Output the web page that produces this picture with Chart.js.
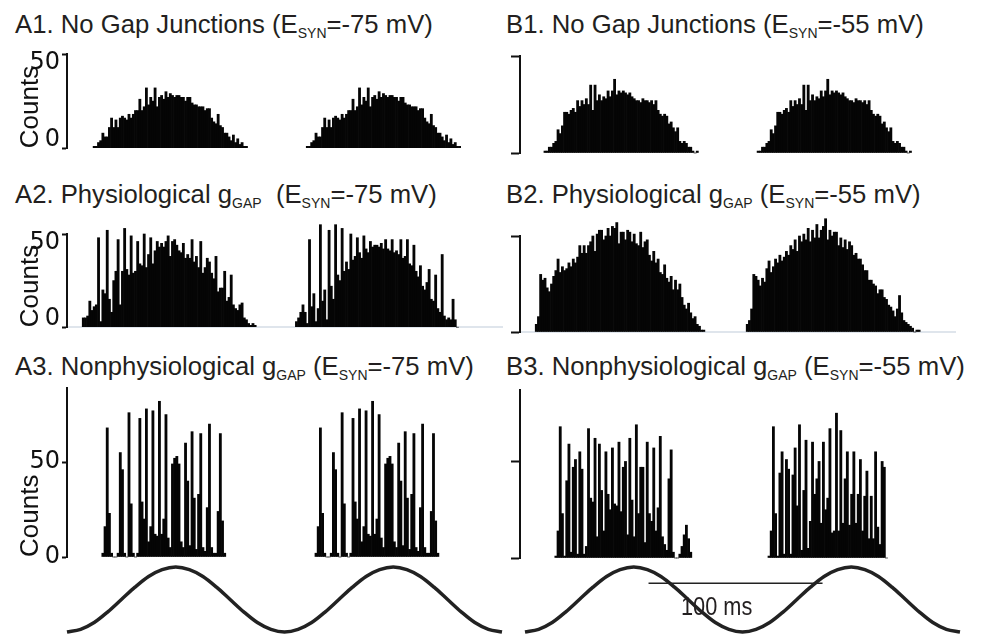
<!DOCTYPE html>
<html>
<head>
<meta charset="utf-8">
<script src="https://cdn.jsdelivr.net/npm/chart.js@4.4.1/dist/chart.umd.min.js"></script>
<style>
  html, body { margin: 0; padding: 0; background: #fff; }
  #fig { position: relative; width: 992px; height: 636px; overflow: hidden;
         font-family: "Liberation Sans", Arial, sans-serif; color: #231f20; }
  #fig canvas { position: absolute; }
  .ttl { position: absolute; font-size: 25.7px; line-height: 25px; white-space: pre; }
  .ttl span { font-size: 14px; position: relative; top: 5px; }
  #bar-label { position: absolute; left: 681px; top: 594px; font-size: 25px; line-height: 25px;
               transform: scaleX(0.87); transform-origin: left top; }
</style>
</head>
<body>
<div id="fig">
  <div class="ttl" style="left:15px;top:12px">A1. No Gap Junctions (E<span>SYN</span>=-75 mV)</div>
  <div class="ttl" style="left:506px;top:12px">B1. No Gap Junctions (E<span>SYN</span>=-55 mV)</div>
  <div class="ttl" style="left:15px;top:182px">A2. Physiological g<span>GAP</span>  (E<span>SYN</span>=-75 mV)</div>
  <div class="ttl" style="left:506px;top:182px">B2. Physiological g<span>GAP</span> (E<span>SYN</span>=-55 mV)</div>
  <div class="ttl" style="left:15px;top:354px">A3. Nonphysiological g<span>GAP</span> (E<span>SYN</span>=-75 mV)</div>
  <div class="ttl" style="left:506px;top:354px">B3. Nonphysiological g<span>GAP</span> (E<span>SYN</span>=-55 mV)</div>
  <canvas id="a1"></canvas><canvas id="b1"></canvas>
  <canvas id="a2"></canvas><canvas id="b2"></canvas>
  <canvas id="a3"></canvas><canvas id="b3"></canvas>
  <canvas id="stimA"></canvas><canvas id="stimB"></canvas>
  <div id="bar-label">100 ms</div>
</div>
<script>
"use strict";
// Spike-time histograms over two stimulus cycles (200 bins).
// Each cycle is stored as [first bin, counts...]; A1, A3 and B1 repeat the same cycle.
const N_BINS = 200;

const A1_START = [12, 110];
const A1_COUNTS = [1,1,3,4,8,6,6,11,16,11, 15,11,16,17,16,15,18,16,18,20,
  20,26,20,22,32,23,27,25,32,22, 27,28,26,30,27,29,28,27,28,28,
  27,27,25,27,27,24,23,23,22,22, 22,20,21,21,16,14,13,18,12,11,
  8,8,6,4,7,3,5,2,3,1,1];

const A2_START = [7, 105];
const A2_COUNTS_1 = [5,5,6,14,9,11,12,48,3,20, 18,52,15,8,25,30,47,12,30,53,
  31,28,49,29,30,46,34,33,50,32, 39,48,34,41,46,43,45,43,46,49,
  38,46,47,44,41,40,45,37,39,37, 47,35,38,32,46,29,32,37,35,29,
  26,38,19,21,21,30,14,16,28,12, 10,9,12,13,5,4,2,1,2,1];
const A2_COUNTS_2 = [3,5,8,12,8,2,47,11,18,3, 10,55,14,20,4,52,22,15,55,28,
  25,53,30,35,31,50,36,38,48,40, 37,49,42,40,46,43,44,44,43,45,
  42,47,42,41,47,40,41,39,47,37, 38,47,34,33,44,30,27,33,22,20,
  24,31,15,14,28,10,8,39,6,4, 5,4,15,4,0];

const A3_START = [16, 114];
const A3_COUNTS = [2,16,68,23,2,0,0,2,55,46, 2,0,76,28,2,0,2,73,29,20,
  78,8,16,77,12,11,82,12,20,75, 10,5,49,52,53,49,8,5,60,40,
  6,66,31,4,33,65,5,3,26,70, 5,2,2,24,65,19,2];

const B1_START = [11, 109];
const B1_COUNTS = [1,1,3,3,5,6,12,10,14,21, 21,20,22,23,21,27,24,27,25,28,
  25,35,22,35,27,30,27,29,28,32, 29,32,38,30,32,31,32,31,30,31,
  29,28,27,27,26,28,27,27,26,27, 25,27,22,20,19,20,19,15,16,13,
  11,13,6,5,6,5,3,3,1,0,1];

const B2_START = [7, 104];
const B2_COUNTS_1 = [4,8,30,27,28,23,21,25,29,32, 38,31,34,32,33,36,34,38,36,39,
  45,41,45,41,45,47,50,42,51,53, 53,48,50,54,50,55,54,57,46,52,
  52,48,53,52,47,51,46,45,52,44, 47,48,40,37,42,36,38,31,30,35,
  28,26,29,22,27,22,25,18,14,12, 15,10,7,8,4,3,1,1];
const B2_COUNTS_2 = [4,6,12,30,29,27,24,28,26,33, 37,31,34,38,36,40,37,39,42,40,
  45,43,48,42,50,47,51,48,54,47, 53,49,56,49,53,55,59,48,53,50,
  52,52,45,49,44,48,43,47,45,40, 41,38,38,35,32,32,27,27,25,24,
  20,22,22,18,17,14,13,11,8,12, 19,10,6,5,4,3,2,0,1,1];

const B3_START = [16, 114];
const B3_COUNTS_1 = [1,14,68,23,1,40,59,3,47,51, 2,55,46,2,6,67,31,29,62,11,
  59,35,14,55,33,25,57,28,27,60, 24,47,50,12,62,30,11,69,23,47,
  47,8,60,23,19,57,14,26,63,11, 7,4,41,56,3,0,0,2,6,12,
  17,10,3];
const B3_COUNTS_2 = [1,14,68,23,1,44,55,2,51,46, 2,43,57,27,69,4,35,61,5,19,
  60,33,41,50,18,60,25,31,67,13, 14,75,14,66,18,41,55,17,33,55,
  18,33,51,14,32,45,10,32,10,55, 16,7,50,47,0];

// Sinusoidal stimulus, two 125 ms cycles sampled every 1/16 cycle (normalised).
const STIM = [-1,-0.92,-0.71,-0.38,0,0.38,0.71,0.92,1,0.92,0.71,0.38,0,-0.38,-0.71,-0.92,
  -1,-0.92,-0.71,-0.38,0,0.38,0.71,0.92,1,0.92,0.71,0.38,0,-0.38,-0.71,-0.92,-1];
const STIM_STEP_MS = 7.8125;
const WINDOW_MS = 250;
const SCALEBAR_MS = 100;
const SCALEBAR_START_MS = 71;
const SCALEBAR_LEVEL = 0.5;

const INK = "#111";
const BAR = "#050505";
const BIN_LABELS = Array.from({ length: N_BINS }, (_, i) => i);

function place(cv, left, top, w, h) {
  cv.width = w; cv.height = h;
  cv.style.left = left + "px"; cv.style.top = top + "px";
}

// L: chart-area geometry; cycles: [[start, counts], ...]
function histogram(id, L, cycles, labelFn) {
  const counts = new Array(N_BINS).fill(null);
  for (const [start, vals] of cycles) vals.forEach((v, i) => { counts[start + i] = v; });
  const padT = 26, padB = 14;
  const cv = document.getElementById(id);
  place(cv, L.left, L.top - padT, L.width, L.bottom - L.top + padT + padB);
  const y = {
    min: 0, max: L.yMax,
    afterFit: (s) => { s.width = L.axisW; },
    afterBuildTicks: (s) => { s.ticks = [{ value: 0 }, { value: 50 }]; },
    border: { display: true, color: INK, width: 2 },
    grid: { display: true, drawOnChartArea: false, drawTicks: true,
            tickLength: L.tick, tickWidth: 2, tickColor: INK },
    ticks: { callback: labelFn, color: INK, padding: 2,
             font: { family: "DejaVu Sans", size: 24, lineHeight: 0.7 } },
    title: { display: !!L.counts, text: "Counts", align: "start", color: INK,
             padding: { top: 18, bottom: 0 },
             font: { family: "'Liberation Sans', Arial, sans-serif", size: 26, lineHeight: 1 } },
  };
  // faint baseline only shows under the A2/B2 histograms
  const x = L.baseline
    ? { display: true, offset: true, grid: { display: false, drawTicks: false },
        ticks: { display: false }, border: { display: true, color: "#dfe5ec", width: 2 } }
    : { display: false };
  return new Chart(cv, {
    type: "bar",
    data: { labels: BIN_LABELS, datasets: [{ data: counts, backgroundColor: BAR,
      barPercentage: 1, categoryPercentage: 1, borderWidth: 0, clip: false }] },
    options: {
      responsive: false, animation: false, events: [],
      layout: { padding: { top: padT, bottom: padB, left: 0, right: L.padR } },
      plugins: { legend: { display: false }, tooltip: { enabled: false } },
      scales: { x, y },
    },
  });
}

function stimulus(id, L, scaleBar) {
  const cv = document.getElementById(id);
  place(cv, L.left, 537, L.width, 99);
  const datasets = [{ data: STIM.map((v, i) => ({ x: i * STIM_STEP_MS, y: v })),
    borderColor: "#222", borderWidth: 3.5, pointRadius: 0,
    cubicInterpolationMode: "monotone", clip: false }];
  if (scaleBar) datasets.push({ data: [{ x: SCALEBAR_START_MS, y: SCALEBAR_LEVEL },
      { x: SCALEBAR_START_MS + SCALEBAR_MS, y: SCALEBAR_LEVEL }],
    borderColor: "#222", borderWidth: 1.6, pointRadius: 0, clip: false });
  return new Chart(cv, {
    type: "line",
    data: { datasets },
    options: {
      responsive: false, animation: false, events: [],
      layout: { padding: { top: 30, bottom: 4, left: L.padL, right: L.padR } },
      plugins: { legend: { display: false }, tooltip: { enabled: false } },
      scales: { x: { type: "linear", min: 0, max: WINDOW_MS, display: false },
                y: { min: -1, max: 1, display: false } },
    },
  });
}

const labTopAligned = (v) => (v === 50 ? ["", "50"] : ["0", ""]);
const labCentered = (v) => (v === 50 ? "50" : "0");
const noLab = () => "";

histogram("a1", { left: 0, width: 510, axisW: 67, padR: 8, top: 54, bottom: 153, yMax: 50, tick: 5, counts: true },
  [[A1_START[0], A1_COUNTS], [A1_START[1], A1_COUNTS]], labTopAligned);
histogram("a2", { left: 0, width: 510, axisW: 67, padR: 8, top: 234, bottom: 332, yMax: 50, tick: 5, counts: true, baseline: true },
  [[A2_START[0], A2_COUNTS_1], [A2_START[1], A2_COUNTS_2]], labTopAligned);
histogram("a3", { left: 0, width: 510, axisW: 67, padR: 8, top: 388, bottom: 557, yMax: 89, tick: 5, counts: true },
  [[A3_START[0], A3_COUNTS], [A3_START[1], A3_COUNTS]], labCentered);
histogram("b1", { left: 496, width: 470, axisW: 24, padR: 11, top: 56, bottom: 153, yMax: 50, tick: 9 },
  [[B1_START[0], B1_COUNTS], [B1_START[1], B1_COUNTS]], noLab);
histogram("b2", { left: 496, width: 470, axisW: 24, padR: 11, top: 236, bottom: 332, yMax: 50, tick: 9, baseline: true },
  [[B2_START[0], B2_COUNTS_1], [B2_START[1], B2_COUNTS_2]], noLab);
histogram("b3", { left: 496, width: 470, axisW: 24, padR: 11, top: 390, bottom: 558, yMax: 87, tick: 9 },
  [[B3_START[0], B3_COUNTS_1], [B3_START[1], B3_COUNTS_2]], noLab);

stimulus("stimA", { left: 0, width: 510, padL: 67, padR: 8 }, false);
stimulus("stimB", { left: 496, width: 470, padL: 29, padR: 6 }, true);
</script>
</body>
</html>
